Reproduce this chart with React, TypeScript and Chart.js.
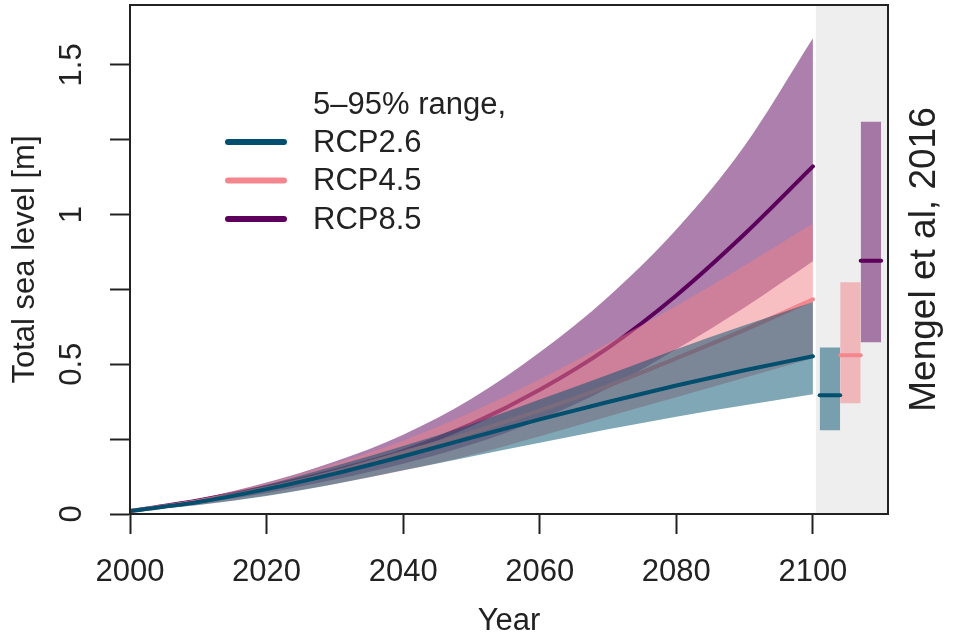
import React, { useEffect, useRef } from "react";
import { Chart, registerables } from "chart.js";

Chart.register(...registerables);

// ---------------- data ----------------
const years = [2000, 2010, 2020, 2030, 2040, 2050, 2060, 2070, 2080, 2090, 2100];

const rcp26Median = [0.01, 0.04, 0.083, 0.135, 0.193, 0.255, 0.316, 0.374, 0.429, 0.48, 0.527];
const rcp26Low = [0.01, 0.03, 0.06, 0.1, 0.146, 0.192, 0.238, 0.283, 0.325, 0.363, 0.4];
const rcp26High = [0.01, 0.047, 0.098, 0.16, 0.227, 0.3, 0.382, 0.465, 0.55, 0.63, 0.708];

const rcp45Median = [0.01, 0.042, 0.085, 0.14, 0.205, 0.272, 0.346, 0.428, 0.52, 0.615, 0.717];
const rcp45Low = [0.01, 0.03, 0.062, 0.1, 0.145, 0.197, 0.26, 0.326, 0.39, 0.455, 0.52];
const rcp45High = [0.01, 0.05, 0.102, 0.168, 0.245, 0.34, 0.45, 0.57, 0.695, 0.83, 0.97];

const rcp85Median = [0.01, 0.045, 0.09, 0.145, 0.21, 0.3, 0.415, 0.555, 0.73, 0.935, 1.161];
const rcp85Low = [0.01, 0.035, 0.07, 0.115, 0.168, 0.232, 0.315, 0.42, 0.55, 0.69, 0.844];
const rcp85High = [0.01, 0.05, 0.105, 0.175, 0.265, 0.385, 0.54, 0.725, 0.95, 1.23, 1.589];

// Mengel et al, 2016 ranges (2100), drawn in the side panel
const mengelFrom = [2101, 2104, 2107];
const mengelTo = [2104, 2107, 2110];
const mengelLow = [0.28, 0.37, 0.574];
const mengelHigh = [0.556, 0.774, 1.31];
const mengelMedian = [0.397, 0.53, 0.846];

const scenarioNames = ["RCP2.6", "RCP4.5", "RCP8.5"];
const legendTitle = "5\u201395% range,";
const sidePanelLabel = "Mengel et al, 2016";
const panelStart = 2100.4;
const xMin = 2000;
const xMax = 2111;
const yMin = 0;
const yMax = 1.7;
const yLabelValues = [0, 0.5, 1, 1.5];
const yLabelTexts = ["0", "0.5", "1", "1.5"];

// ---------------- styles ----------------
const FONT = '"Liberation Sans", Arial, Helvetica, sans-serif';
const TEXT = "#222222";
const lineColors = ["#004f6e", "#f4868e", "#5c005c"];
const bandColors = ["rgba(0,79,107,0.5)", "rgba(242,128,136,0.5)", "rgba(89,0,89,0.5)"];
const panelColor = "#eeeeee";

const boxPlugin = {
  id: "boxPlugin",
  afterDraw(chart: any) {
    const { ctx, chartArea } = chart;
    ctx.save();
    ctx.strokeStyle = TEXT;
    ctx.lineWidth = 2;
    ctx.strokeRect(chartArea.left, chartArea.top, chartArea.right - chartArea.left, chartArea.bottom - chartArea.top);
    // side panel label
    ctx.translate(chartArea.right + 36.5, (chartArea.top + chartArea.bottom) / 2);
    ctx.rotate(-Math.PI / 2);
    ctx.fillStyle = TEXT;
    ctx.font = `37px ${FONT}`;
    ctx.textAlign = "center";
    ctx.textBaseline = "middle";
    ctx.fillText(sidePanelLabel, 0, 0);
    ctx.restore();
  },
};

const legendPlugin = {
  id: "rLegend",
  afterDraw(chart: any) {
    const { ctx, chartArea } = chart;
    const x0 = chartArea.left + 98;
    const x1 = chartArea.left + 154;
    const tx = chartArea.left + 183;
    const rowY = [chartArea.top + 100, chartArea.top + 137, chartArea.top + 175.5, chartArea.top + 214];
    ctx.save();
    ctx.font = `31px ${FONT}`;
    ctx.fillStyle = TEXT;
    ctx.textAlign = "left";
    ctx.textBaseline = "middle";
    ctx.fillText(legendTitle, tx, rowY[0]);
    scenarioNames.forEach((name, i) => {
      const y = rowY[i + 1];
      ctx.strokeStyle = lineColors[i];
      ctx.lineWidth = 6;
      ctx.lineCap = "round";
      ctx.beginPath();
      ctx.moveTo(x0, y);
      ctx.lineTo(x1, y);
      ctx.stroke();
      ctx.fillStyle = TEXT;
      ctx.fillText(name, tx, y + 1);
    });
    ctx.restore();
  },
};

const zeroPad = (s: any) => {
  s.paddingTop = 0;
  s.paddingBottom = 0;
  s.paddingLeft = 0;
  s.paddingRight = 0;
};

export default function App() {
  const ref = useRef<HTMLCanvasElement>(null);

  useEffect(() => {
    if (!ref.current) return;
    const pts = (ys: number[]) => years.map((x, i) => ({ x, y: ys[i] }));
    const seg = (a: number, b: number, y: number) => [
      { x: a, y },
      { x: b, y },
    ];
    const medians = [rcp26Median, rcp45Median, rcp85Median];
    const lows = [rcp26Low, rcp45Low, rcp85Low];
    const highs = [rcp26High, rcp45High, rcp85High];

    const datasets: any[] = [];
    scenarioNames.forEach((name, k) => {
      datasets.push({
        label: name,
        data: pts(medians[k]),
        borderColor: lineColors[k],
        borderWidth: 4,
        borderCapStyle: "round",
        pointRadius: 0,
        fill: false,
        cubicInterpolationMode: "monotone",
        order: 2 * k + 1,
      });
      datasets.push({
        label: name + " 95%",
        data: pts(highs[k]),
        borderWidth: 0,
        borderColor: "rgba(0,0,0,0)",
        backgroundColor: bandColors[k],
        pointRadius: 0,
        fill: "+1",
        cubicInterpolationMode: "monotone",
        order: 2 * k + 2,
      });
      datasets.push({
        label: name + " 5%",
        data: pts(lows[k]),
        borderWidth: 0,
        borderColor: "rgba(0,0,0,0)",
        pointRadius: 0,
        fill: false,
        cubicInterpolationMode: "monotone",
        order: 2 * k + 2,
      });
    });

    // side panel background
    datasets.push({
      label: "panel",
      data: seg(panelStart, xMax, yMax),
      borderWidth: 0,
      borderColor: "rgba(0,0,0,0)",
      backgroundColor: panelColor,
      pointRadius: 0,
      fill: "origin",
      order: 50,
    });

    scenarioNames.forEach((name, k) => {
      datasets.push({
        label: "Mengel " + name + " high",
        data: seg(mengelFrom[k], mengelTo[k], mengelHigh[k]),
        borderWidth: 0,
        borderColor: "rgba(0,0,0,0)",
        backgroundColor: bandColors[k],
        pointRadius: 0,
        fill: "+1",
        order: 20,
      });
      datasets.push({
        label: "Mengel " + name + " low",
        data: seg(mengelFrom[k], mengelTo[k], mengelLow[k]),
        borderWidth: 0,
        borderColor: "rgba(0,0,0,0)",
        pointRadius: 0,
        fill: false,
        order: 20,
      });
      datasets.push({
        label: "Mengel " + name + " median",
        data: seg(mengelFrom[k], mengelTo[k], mengelMedian[k]),
        borderColor: lineColors[k],
        borderWidth: 4,
        borderCapStyle: "round",
        pointRadius: 0,
        fill: false,
        order: 10,
      });
    });

    const chart = new Chart(ref.current, {
      type: "line",
      data: { datasets },
      plugins: [boxPlugin, legendPlugin],
      options: {
        responsive: false,
        animation: false,
        events: [],
        layout: { padding: { left: 0, right: 68, top: 5, bottom: 0 } },
        plugins: {
          legend: { display: false },
          tooltip: { enabled: false },
        },
        scales: {
          x: {
            type: "linear",
            min: xMin,
            max: xMax,
            afterFit: (s: any) => {
              s.height = 120;
              zeroPad(s);
            },
            ticks: {
              stepSize: 20,
              includeBounds: false,
              autoSkip: false,
              maxRotation: 0,
              padding: 20,
              color: TEXT,
              font: { family: FONT, size: 31 },
              callback: (v: any) => String(v),
            },
            grid: {
              drawOnChartArea: false,
              drawTicks: true,
              tickLength: 20,
              tickWidth: 2,
              tickColor: TEXT,
            },
            border: { display: true, color: TEXT, width: 2 },
            title: {
              display: true,
              text: "Year",
              color: TEXT,
              font: { family: FONT, size: 31 },
              padding: { top: 0, bottom: -6 },
            },
          },
          y: {
            type: "linear",
            min: yMin,
            max: yMax,
            afterFit: (s: any) => {
              s.width = 130;
              zeroPad(s);
            },
            ticks: {
              stepSize: 0.25,
              includeBounds: false,
              autoSkip: false,
              minRotation: 90,
              maxRotation: 90,
              crossAlign: "center",
              padding: 16,
              color: TEXT,
              font: { family: FONT, size: 31 },
              callback: (v: any) => {
                const i = yLabelValues.findIndex((t) => Math.abs(t - Number(v)) < 1e-9);
                return i >= 0 ? yLabelTexts[i] : "";
              },
            },
            grid: {
              drawOnChartArea: false,
              drawTicks: true,
              tickLength: 20,
              tickWidth: 2,
              tickColor: TEXT,
            },
            border: { display: true, color: TEXT, width: 2 },
            title: {
              display: true,
              text: "Total sea level [m]",
              color: TEXT,
              font: { family: FONT, size: 31 },
              padding: { top: 7, bottom: 0 },
            },
          },
        },
      } as any,
    });
    return () => chart.destroy();
  }, []);

  return (
    <div style={{ position: "absolute", left: 0, top: 0, width: 956, height: 634, background: "#fff" }}>
      <canvas ref={ref} width={956} height={634} style={{ display: "block", width: 956, height: 634 }} />
    </div>
  );
}
